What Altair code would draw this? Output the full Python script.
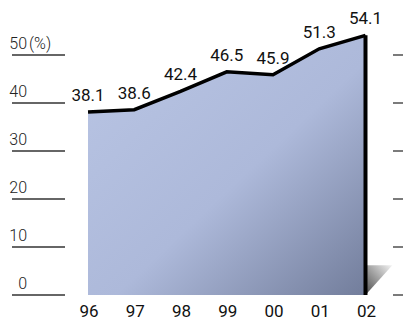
import altair as alt
import pandas as pd

# Share of the total, per year (%)
years = ["96", "97", "98", "99", "00", "01", "02"]
values = [38.1, 38.6, 42.4, 46.5, 45.9, 51.3, 54.1]

# Left-hand scale
tick_values = [0, 10, 20, 30, 40, 50]
tick_labels = ["0", "10", "20", "30", "40", "50"]
unit_label = "(%)"

FONT = "Roboto"

df = pd.DataFrame({"i": list(range(len(years))), "year": years, "value": values})
ticks = pd.DataFrame({"t": tick_values, "label": tick_labels})
last = df.iloc[[-1]].assign(zero=0)

# Small drop shadow at the foot of the last year
depth_x, depth_y = 0.58, 6.2
shadow = pd.DataFrame({
    "i": [df["i"].iloc[-1], df["i"].iloc[-1] + depth_x],
    "top": [depth_y, depth_y],
    "bottom": [0, depth_y],
})

x = alt.X("i:Q", scale=alt.Scale(domain=[-1.903, 6.811], nice=False, zero=False), axis=None)
y_scale = alt.Scale(domain=[-5.208, 61.458], nice=False, zero=False)


def y(field):
    return alt.Y(f"{field}:Q", scale=y_scale, axis=None)


area_fill = alt.Gradient(
    gradient="linear", x1=0, y1=0, x2=1, y2=1,
    stops=[
        alt.GradientStop(color="#b9c5e4", offset=0),
        alt.GradientStop(color="#adb9da", offset=0.55),
        alt.GradientStop(color="#727d9b", offset=1),
    ],
)
shadow_fill = alt.Gradient(
    gradient="linear", x1=1, y1=0, x2=0, y2=1,
    stops=[
        alt.GradientStop(color="#f4f4f4", offset=0),
        alt.GradientStop(color="#4a4a4a", offset=1),
    ],
)

base = alt.Chart(df)

grid_left = alt.Chart(ticks).mark_rule(color="#333333", strokeWidth=1.3).encode(
    x=alt.value(12), x2=alt.value(65), y=y("t")
)
grid_right = alt.Chart(ticks).mark_rule(color="#333333", strokeWidth=1.3).encode(
    x=alt.value(393), x2=alt.value(403), y=y("t")
)
tick_text = alt.Chart(ticks).mark_text(
    align="right", baseline="alphabetic", dy=-6, fontSize=16, fontWeight=300,
    font=FONT, color="#222222"
).encode(x=alt.value(27), y=y("t"), text="label:N")
unit_text = alt.Chart(ticks.tail(1)).mark_text(
    align="left", baseline="alphabetic", dy=-6, dx=2, fontSize=16, fontWeight=300,
    font=FONT, color="#222222"
).encode(x=alt.value(27), y=y("t"), text=alt.value(unit_label))

shadow_area = alt.Chart(shadow).mark_area(fill=shadow_fill).encode(
    x=x, y=y("top"), y2="bottom:Q"
)
area = base.mark_area(fill=area_fill).encode(x=x, y=y("value"))
top_line = base.mark_line(color="black", strokeWidth=3.5, strokeJoin="miter").encode(
    x=x, y=y("value")
)
edge = alt.Chart(last).mark_rule(color="black", strokeWidth=4).encode(
    x=x, y=y("value"), y2="zero:Q"
)
value_text = base.mark_text(
    baseline="alphabetic", dy=-11, fontSize=17, font=FONT, color="#111111"
).encode(x=x, y=y("value"), text=alt.Text("value:Q", format=".1f"))
year_text = base.mark_text(
    baseline="alphabetic", fontSize=17, font=FONT, color="#111111", dx=1
).encode(x=x, y=alt.value(317), text="year:N")

chart = alt.layer(
    grid_left, grid_right, tick_text, unit_text,
    shadow_area, area, top_line, edge, value_text, year_text,
).properties(
    width=403, height=320, padding=0,
    autosize=alt.AutoSizeParams(type="none"),
    background="white",
).configure_view(stroke=None)

chart.save("out.html", embed_options={"renderer": "svg", "actions": False})
